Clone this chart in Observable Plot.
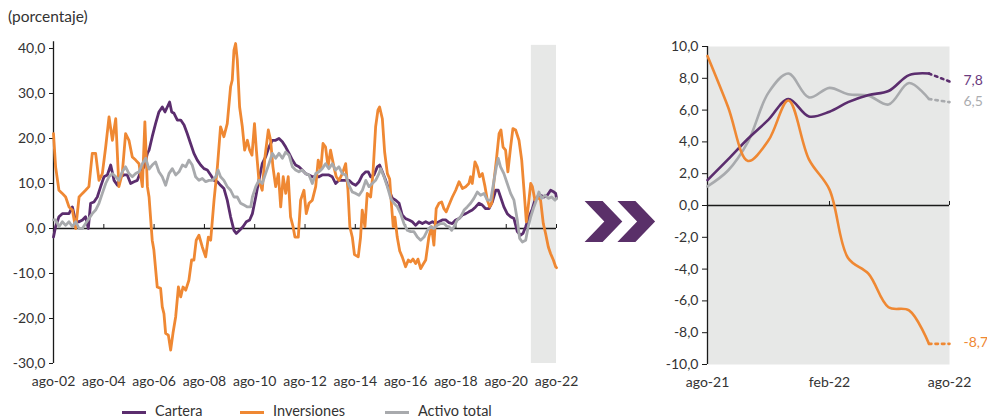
<!DOCTYPE html>
<html><head><meta charset="utf-8">
<script src="https://cdn.jsdelivr.net/npm/d3@7"></script>
<script src="https://cdn.jsdelivr.net/npm/@observablehq/plot@0.6"></script>
<style>
html,body{margin:0;padding:0;background:#fff;}
body{width:987px;height:420px;overflow:hidden;position:relative;font-family:Lato,"Noto Sans",sans-serif;color:#333;}
#title{position:absolute;left:8px;top:7px;font-size:15.5px;line-height:19px;color:#333;}
#left{position:absolute;left:0;top:0;}
#right{position:absolute;left:650px;top:0;}
#arrows{position:absolute;left:0;top:0;}
.sw{position:absolute;height:3.5px;top:410.5px;width:24px;}
.lt{position:absolute;top:403px;font-size:14.5px;line-height:16px;color:#333;white-space:nowrap;}
</style></head><body>
<div id="title">(porcentaje)</div>
<div id="left"></div>
<div id="right"></div>
<svg id="arrows" width="987" height="420"><g fill="#5a3069">
<polygon points="584.6,201 602.6,201 622.3,221.5 602.6,242 584.6,242 604.3,221.5"/>
<polygon points="617.4,201 635.4,201 655.1,221.5 635.4,242 617.4,242 637.1,221.5"/>
</g></svg>
<div id="legend"></div>
<script>
// ---------- data (left panel: month offset from ago-02, value) ----------
const seriesNames = ["Cartera", "Inversiones", "Activo total"];
const seriesColors = ["#5b2d6e", "#ef8833", "#a8aaad"];
const xTickLabels = ["ago-02","ago-04","ago-06","ago-08","ago-10","ago-12","ago-14","ago-16","ago-18","ago-20","ago-22"];
const leftYTicks = [-30,-20,-10,0,10,20,30,40];
const bandLabels = ["ago-21","ago-22"];

const cartera = [[0,-1.9],[1.0,0.4],[2.6,2.6],[4.2,3.3],[5.8,3.3],[7.4,3.3],[9.0,4.8],[10.6,1.5],[12.2,1.5],[13.8,1.9],[15.3,2.6],[16.6,0],[17.7,5.6],[19.3,5.9],[20.9,7.0],[22.5,9.3],[24.1,11.5],[25.7,11.9],[27.3,14.1],[28.9,10.7],[30.5,9.6],[32.0,11.5],[33.6,11.9],[35.2,11.9],[36.8,10],[38.4,10.4],[40.0,10.7],[41.6,12.6],[43.2,13.7],[44.8,16.7],[45.6,17.4],[47.1,20.4],[48.7,23.3],[50.3,25.9],[51.9,27.0],[53.2,25.9],[54.3,27.0],[55.4,28.1],[56.4,25.9],[57.5,25.6],[59.1,24.1],[60.7,24.1],[62.3,23],[63.8,21.1],[65.4,18.9],[67.0,16.7],[68.6,15.2],[70.2,14.1],[71.8,13.3],[73.4,13.0],[75.0,11.9],[76.6,10.7],[78.2,10.4],[79.7,9.6],[81.3,8.9],[82.9,6.3],[84.5,2.6],[86.1,-0.4],[87.2,-1.1],[88.8,-0.4],[90.4,0.4],[92.0,1.5],[93.6,1.9],[94.9,3.3],[96.5,7.0],[98.0,10.7],[99.6,14.4],[101.2,15.9],[102.8,18.1],[104.4,19.6],[106.0,19.6],[107.6,20.0],[109.2,19.3],[110.8,18.1],[112.4,16.7],[114.0,15.2],[115.5,14.1],[117.1,13.7],[118.7,13.0],[120.3,12.2],[121.9,11.9],[123.5,11.5],[125.1,11.5],[126.7,11.5],[128.2,11.9],[129.8,11.9],[131.4,11.9],[133.0,11.5],[134.6,10.0],[136.2,10.7],[137.8,10.7],[139.4,10.7],[141.0,10.7],[142.6,10],[144.2,9.6],[145.8,10.4],[147.4,11.9],[149.0,12.6],[150.2,12.6],[151.3,11.5],[152.9,11.9],[154.5,13.7],[155.6,14.1],[156.9,12.6],[158.5,10.7],[160.1,8.5],[161.7,6.7],[163.3,6.3],[164.9,5.6],[166.4,3.0],[168.0,2.2],[169.6,1.9],[171.2,1.5],[172.8,0.7],[174.4,1.5],[176.0,1.1],[177.6,1.5],[179.2,1.1],[180.8,1.5],[182.3,1.1],[183.9,1.5],[185.5,1.9],[187.1,1.9],[188.7,1.3],[190.3,1.1],[191.9,1.9],[193.5,2.2],[195.1,3.0],[196.7,3.3],[198.2,3.7],[199.8,4.1],[201.4,4.8],[203.0,5.6],[204.6,5.2],[206.2,4.4],[207.8,4.4],[209.4,5.9],[211.0,8.5],[212.2,8.5],[213.3,7.0],[214.9,4.8],[216.5,3.3],[218.1,2.6],[219.7,2.2],[221.3,-0.7],[222.9,-1.5],[224.0,-1.1],[225.3,0.4],[226.9,2.6],[228.5,4.4],[229.7,6.3],[230.8,7.0],[232.4,7.4],[234.0,7.0],[235.6,7.4],[237.2,8.5],[238.8,8.1],[239.6,7.8],[240,6.7]];

const inversiones = [[0,21.1],[1.0,13.7],[2.6,8.5],[4.2,7.8],[5.8,7.0],[7.4,4.8],[9.0,4.1],[10.6,0],[12.2,7],[13.8,7.8],[15.3,8.5],[16.9,9.3],[18.5,16.7],[20.1,16.7],[21.7,10.7],[23.3,12.2],[24.9,18.1],[26.5,24.8],[28.1,19.6],[29.7,24.4],[31.2,9.3],[32.8,12.2],[34.4,21.1],[36.0,19.6],[37.6,15.9],[39.2,15.2],[40.8,14.4],[42.4,9.3],[43.6,23.7],[44.8,9.3],[45.6,7.0],[47.1,-2.6],[47.9,-4.8],[49.5,-13],[51.1,-13.3],[51.9,-17.4],[52.7,-18.9],[53.5,-23.3],[54.8,-23.7],[55.9,-27.0],[57.0,-23.3],[58.3,-19.6],[59.6,-13],[60.7,-15.2],[61.8,-13],[63.1,-13.7],[64.6,-11.5],[65.9,-7.0],[67.0,-7.0],[68.1,-2.6],[69.4,-1.5],[71.0,-4.1],[72.6,-6.3],[73.9,-1.9],[75.0,-2.6],[76.6,6.3],[78.2,13.7],[79.7,22.6],[81.3,20.4],[82.9,23.3],[84.5,31.5],[85.3,33],[86.1,39.6],[86.9,41.1],[87.7,37.4],[88.8,27],[90.1,22.6],[91.2,17.4],[92.5,19.6],[93.6,17.4],[94.7,16.3],[95.9,23.3],[96.8,17.4],[98.0,10.7],[99.6,8.5],[100.9,15.9],[102.5,21.9],[103.6,19.6],[104.7,13.7],[106.0,9.3],[107.3,12.2],[108.4,4.8],[109.6,11.5],[110.8,7.8],[112.0,11.5],[113.1,2.6],[114.3,0.4],[115.2,-1.9],[116.8,-1.9],[117.9,6.3],[119.5,8.5],[120.6,3.3],[121.9,5.6],[123.5,6.3],[125.1,9.3],[126.3,15.2],[127.5,13.0],[128.6,18.9],[129.8,18.1],[131.0,13.7],[132.2,17.4],[133.8,13.7],[134.9,11.5],[136.2,10.7],[137.8,12.2],[139.4,14.4],[140.5,8.5],[141.4,0.4],[142.6,-2],[143.6,-5.8],[145.4,-6.3],[146.5,-2],[147.3,4.1],[148.6,0.4],[149.7,7.8],[151.3,7.0],[152.4,12],[153.7,22.6],[154.8,26.3],[155.6,27.0],[156.9,24.4],[158.0,17],[159.3,12.2],[160.4,11],[161.3,5.0],[162.1,0.4],[162.9,2.5],[164.0,-1.9],[165.2,-5],[166.4,-6.3],[168.0,-8.5],[169.3,-7],[170.4,-7.4],[171.5,-6.8],[172.8,-7.8],[173.9,-6.8],[175.2,-8.9],[176.3,-8],[177.6,-7],[179.1,-1.9],[180.4,0.4],[181.5,-3.7],[182.6,4.4],[183.9,5.6],[185.2,5.9],[186.3,4.4],[187.4,3.7],[188.7,5.2],[190.3,7.0],[191.9,8.5],[193.5,10.4],[195.1,8.9],[196.7,9.3],[198.2,10],[199.0,11.5],[199.8,10],[201.1,14.8],[202.2,13.7],[203.3,11.5],[204.6,12.2],[205.9,9.3],[207.0,6.3],[208.1,4.8],[209.1,5.6],[210.2,10.7],[211.3,15.2],[212.6,21.1],[213.5,21.9],[214.5,18.1],[215.7,17.4],[216.8,12.6],[218.1,18.1],[219.2,22.2],[220.5,21.9],[222.1,19.6],[223.4,15.2],[224.5,8.5],[225.6,1.5],[226.5,4.8],[227.7,10],[228.5,9.3],[229.7,6.3],[231.0,7.0],[232.4,6.3],[233.7,1.1],[234.8,-1.1],[236.1,-4.1],[237.2,-5.6],[238.5,-7.0],[239.6,-8.5],[240,-8.7]];

const activoTotal = [[0,1.9],[1.0,1.9],[2.6,0.4],[4.2,1.5],[5.8,0.7],[7.4,1.5],[9.0,0.4],[10.6,1.5],[12.2,0],[13.8,0],[15.3,1.1],[16.9,2.2],[18.5,3.3],[20.1,4.1],[21.7,5.6],[23.3,7.8],[24.9,10],[26.5,11.5],[28.1,12.2],[29.7,11.5],[31.2,10.7],[32.8,12.6],[34.4,13.7],[36.0,12.2],[37.6,11.5],[39.2,12.2],[40.8,12.6],[42.4,14.4],[44.0,15.6],[45.6,13.2],[47.1,14.1],[48.7,14.8],[50.3,12.6],[51.9,11.5],[53.5,9.6],[55.1,12.2],[56.7,13.3],[58.3,11.9],[59.9,12.6],[61.5,14.1],[63.1,13.7],[64.6,15.2],[66.2,14.1],[67.8,11.5],[69.4,10.7],[71.0,11.1],[72.6,10.4],[74.2,10.7],[75.8,10.7],[77.4,11.5],[78.5,13.0],[79.7,11.5],[81.3,10.7],[82.9,9.3],[84.5,8.5],[86.1,7.0],[87.7,7.0],[89.3,5.6],[90.9,5.2],[92.5,4.8],[94.1,4.8],[94.9,7.0],[96.5,9.3],[98.0,10.7],[99.6,10.0],[101.2,12.2],[102.8,14.4],[104.4,16.7],[106.0,15.6],[107.6,16.7],[109.2,15.6],[110.8,17.0],[112.4,16.3],[114.0,13.7],[115.5,13.0],[117.1,12.6],[118.7,13.0],[120.3,12.2],[121.9,11.9],[123.5,10.0],[125.1,12.2],[126.7,12.6],[128.2,13.3],[129.8,14.4],[131.4,13.3],[133.0,14.4],[134.6,13.0],[136.2,13.7],[137.8,12.2],[139.4,11.9],[141.0,9.6],[142.6,8.1],[144.2,7.8],[145.8,7.4],[147.4,8.5],[149.0,10.7],[150.5,9.3],[152.1,10],[153.7,10.7],[155.3,12.2],[156.1,13.3],[157.7,11.5],[159.3,9.3],[160.9,6.7],[162.5,5.6],[164.1,4.8],[165.6,3.3],[167.2,1.1],[168.8,-0.4],[170.4,-0.7],[172.0,-0.7],[173.6,-1.9],[175.2,-2.6],[176.8,-1.9],[178.4,-0.4],[180.0,0.4],[181.5,0],[183.1,0.7],[184.7,1.1],[186.3,1.1],[187.9,0.4],[188.7,0.4],[190.0,-0.4],[191.1,0.4],[192.7,1.9],[194.3,2.6],[195.9,4.1],[197.4,4.8],[199.0,5.6],[200.6,6.7],[202.2,8.1],[203.8,7.4],[205.4,7.8],[207.0,6.3],[208.6,6.3],[210.2,10.7],[211.3,13.7],[212.2,15.6],[213.3,13.7],[214.9,12.2],[216.5,10],[218.1,7.8],[219.7,6.3],[221.3,1.9],[222.4,-2.2],[223.7,-3.0],[225.3,-2.6],[226.5,0.4],[227.7,2.6],[229.2,4.8],[230.4,6.3],[231.6,8.1],[232.9,6.7],[234.5,7.4],[236.1,6.7],[237.7,7.0],[239.3,6.3],[240,6.7]];

// ---------- data (right panel: monthly, ago-21 .. jul-22 solid; jul-22 -> ago-22 dotted) ----------
const rightMonths = ["2021-08","2021-09","2021-10","2021-11","2021-12","2022-01","2022-02","2022-03","2022-04","2022-05","2022-06","2022-07"];
const rightEndMonth = "2022-08";
const rightCartera = [1.6, 2.9, 4.2, 5.4, 6.7, 5.6, 5.9, 6.5, 6.95, 7.2, 8.2, 8.3];
const rightInversiones = [9.4, 6.2, 2.8, 4.1, 6.6, 2.9, 1.0, -3.3, -4.3, -6.4, -6.6, -8.7];
const rightActivo = [1.2, 2.2, 4.0, 7.1, 8.3, 6.8, 7.4, 7.0, 6.9, 6.35, 7.7, 6.7];
const rightEndValues = [7.8, -8.7, 6.5];
const rightEndLabels = ["7,8", "-8,7", "6,5"];
const rightXTickLabels = ["ago-21", "feb-22", "ago-22"];
const rightYTicks = [-10,-8,-6,-4,-2,0,2,4,6,8,10];

// ---------- helpers ----------
const MONTH = 30.4375 * 86400000;
const base = Date.UTC(2002, 7, 1);
const toDate = m => new Date(base + m * MONTH);
const parseLabel = s => { const mm = {ene:0,feb:1,mar:2,abr:3,may:4,jun:5,jul:6,ago:7,sep:8,oct:9,nov:10,dic:11}; const [a,b] = s.split("-"); return new Date(Date.UTC(2000 + +b, mm[a], 1)); };
const parseMonth = s => { const [y,m] = s.split("-"); return new Date(Date.UTC(+y, +m - 1, 1)); };
const fmt = d => d.toFixed(1).replace(".", ",");
const FONT = "Lato, 'Noto Sans', sans-serif";

const leftRows = [];
[cartera, inversiones, activoTotal].forEach((s, i) => s.forEach(([m, v]) => leftRows.push({series: seriesNames[i], date: toDate(m), value: v})));
const xTicks = xTickLabels.map(parseLabel);
const xLabelMap = new Map(xTicks.map((d, i) => [+d, xTickLabels[i]]));
const band = [{start: parseLabel(bandLabels[0]), end: parseLabel(bandLabels[1])}];

const left = Plot.plot({
  width: 600, height: 400,
  marginLeft: 53, marginRight: 44, marginTop: 41.25, marginBottom: 37,
  style: {fontFamily: FONT, fontSize: "14px", color: "#333", background: "transparent", overflow: "visible"},
  x: {type: "utc", domain: [xTicks[0], xTicks[xTicks.length - 1]], label: null},
  y: {domain: [-30, 41.5], label: null},
  color: {domain: seriesNames, range: seriesColors},
  marks: [
    Plot.rect(band, {x1: "start", x2: "end", y1: -30, y2: 40.7, fill: "#e7e8e7"}),
    Plot.ruleY([0], {stroke: "#1a1a1a", strokeWidth: 1.3}),
    Plot.ruleX(xTicks, {y1: 0, y2: 0, insetTop: -4, stroke: "#1a1a1a", strokeWidth: 1}),
    Plot.ruleX([xTicks[0]], {y1: -30, y2: 41.5, stroke: "#1a1a1a", strokeWidth: 1.3}),
    Plot.axisY({ticks: leftYTicks, tickSize: 4, tickPadding: 4, tickFormat: fmt, stroke: "#1a1a1a", label: null}),
    Plot.axisX({ticks: xTicks, tickSize: 0, tickPadding: 13, tickFormat: d => xLabelMap.get(+d), label: null}),
    Plot.line(leftRows, {x: "date", y: "value", z: "series", stroke: "series", strokeWidth: 2.8, strokeLinejoin: "round"})
  ]
});
document.getElementById("left").appendChild(left);

// right panel
const rDates = rightMonths.map(parseMonth);
const rEnd = parseMonth(rightEndMonth);
const rightSeries = [rightCartera, rightInversiones, rightActivo];
const rRows = [], rDotRows = [], rLabels = [];
rightSeries.forEach((vals, i) => {
  vals.forEach((v, j) => rRows.push({series: seriesNames[i], date: rDates[j], value: v}));
  rDotRows.push({series: seriesNames[i], date: rDates[rDates.length - 1], value: vals[vals.length - 1]});
  rDotRows.push({series: seriesNames[i], date: rEnd, value: rightEndValues[i]});
  rLabels.push({series: seriesNames[i], date: rEnd, value: rightEndValues[i], text: rightEndLabels[i]});
});
const rOrder = ["Activo total", "Cartera", "Inversiones"];
const rTicks = rightXTickLabels.map(parseLabel);
const rLabelMap = new Map(rTicks.map((d, i) => [+d, rightXTickLabels[i]]));
const labelColors = {"Cartera": "#6b3c80", "Inversiones": "#ef8833", "Activo total": "#abadb0"};

const right = Plot.plot({
  width: 337, height: 400,
  marginLeft: 57, marginRight: 38, marginTop: 46, marginBottom: 36,
  style: {fontFamily: FONT, fontSize: "14px", color: "#333", background: "transparent", overflow: "visible"},
  x: {type: "utc", domain: [rTicks[0], rTicks[rTicks.length - 1]], label: null},
  y: {domain: [-10, 10], label: null},
  color: {domain: seriesNames, range: seriesColors},
  marks: [
    Plot.frame({fill: "#e7e8e7", stroke: "none"}),
    Plot.ruleY([0], {stroke: "#1a1a1a", strokeWidth: 1.3}),
    Plot.ruleX(rTicks, {y1: 0, y2: 0, insetTop: -4, stroke: "#1a1a1a", strokeWidth: 1}),
    Plot.ruleX([rTicks[0]], {y1: -10, y2: 10, stroke: "#1a1a1a", strokeWidth: 1.3}),
    Plot.axisY({ticks: rightYTicks, tickSize: 5, tickPadding: 4, tickFormat: fmt, stroke: "#1a1a1a", label: null}),
    Plot.axisX({ticks: rTicks, tickSize: 0, tickPadding: 13, tickFormat: d => rLabelMap.get(+d), label: null}),
    ...rOrder.map(name => Plot.line(rRows.filter(d => d.series === name), {x: "date", y: "value", stroke: "series", strokeWidth: 2.6, curve: "catmull-rom"})),
    ...rOrder.map(name => Plot.line(rDotRows.filter(d => d.series === name), {x: "date", y: "value", stroke: "series", strokeWidth: 2.6, strokeDasharray: "2.5,4"})),
    Plot.text(rLabels, {x: "date", y: "value", text: "text", fill: d => labelColors[d.series], dx: 14, dy: -1, textAnchor: "start", fontSize: 14})
  ]
});
document.getElementById("right").appendChild(right);

// legend
const legend = document.getElementById("legend");
const swX = [122, 240, 385], txX = [155, 273, 418];
seriesNames.forEach((name, i) => {
  const sw = document.createElement("div");
  sw.className = "sw"; sw.style.left = swX[i] + "px"; sw.style.background = seriesColors[i];
  const t = document.createElement("div");
  t.className = "lt"; t.style.left = txX[i] + "px"; t.textContent = name;
  legend.appendChild(sw); legend.appendChild(t);
});
</script>
</body></html>
